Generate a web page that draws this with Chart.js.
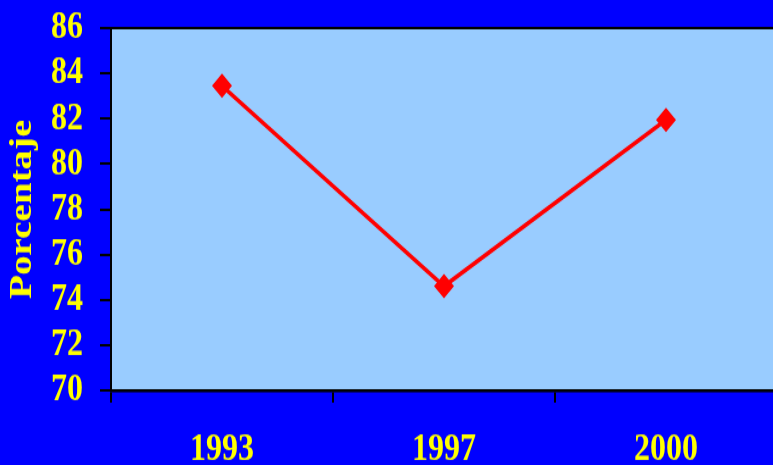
<!DOCTYPE html>
<html>
<head>
<meta charset="utf-8">
<script src="https://cdn.jsdelivr.net/npm/chart.js@4"></script>
<style>
  html, body { margin: 0; padding: 0; background: #0000FF; overflow: hidden; width: 773px; height: 465px; }
  /* the original slide is stretched vertically */
  #wrap { width: 790px; height: 400px; transform: scaleY(1.22); transform-origin: 0 0; }
</style>
</head>
<body>
<div id="wrap"><canvas id="porcentajeChart" width="790" height="400"></canvas></div>
<script>
  // Data
  const years = ['1993', '1997', '2000'];
  const porcentaje = [83.45, 74.6, 81.95];
  const yMin = 70, yMax = 86, yStep = 2;

  const yellow = '#FFFF00';
  const serif = '"Liberation Serif", "Times New Roman", serif';

  // Light blue plot area with black frame
  const plotBackground = {
    id: 'plotBackground',
    beforeDraw(chart) {
      const { ctx, chartArea: a } = chart;
      ctx.save();
      ctx.fillStyle = '#99CCFF';
      ctx.fillRect(a.left, a.top, a.right - a.left, a.bottom - a.top);
      ctx.strokeStyle = '#000000';
      ctx.lineWidth = 2;
      ctx.strokeRect(a.left, a.top, a.right - a.left, a.bottom - a.top);
      ctx.restore();
    }
  };

  const ctx = document.getElementById('porcentajeChart').getContext('2d');
  new Chart(ctx, {
    type: 'line',
    data: {
      labels: years,
      datasets: [{
        data: porcentaje,
        borderColor: '#FF0000',
        backgroundColor: '#FF0000',
        borderWidth: 3.5,
        pointStyle: 'rectRot',
        pointRadius: 10,
        pointHoverRadius: 10,
        pointBorderWidth: 0,
        tension: 0
      }]
    },
    options: {
      responsive: false,
      animation: false,
      layout: { padding: { top: 23, right: 13, left: 0, bottom: 0 } },
      plugins: {
        legend: { display: false },
        tooltip: { enabled: false }
      },
      scales: {
        x: {
          offset: true,
          grid: {
            offset: true,
            drawOnChartArea: false,
            drawTicks: true,
            tickLength: 10,
            color: '#000000',
            lineWidth: 2
          },
          border: { display: true, color: '#000000', width: 2.5 },
          ticks: {
            color: yellow,
            padding: 20,
            autoSkip: false,
            maxRotation: 0,
            font: { family: serif, size: 32, weight: 'bold' }
          },
          afterFit(scale) { scale.height = 80; }
        },
        y: {
          min: yMin,
          max: yMax,
          grid: {
            drawOnChartArea: false,
            drawTicks: true,
            tickLength: 11,
            color: '#000000',
            lineWidth: 2
          },
          border: { display: true, color: '#000000', width: 2 },
          ticks: {
            stepSize: yStep,
            autoSkip: false,
            color: yellow,
            padding: 17,
            font: { family: serif, size: 32, weight: 'bold', lineHeight: 1 }
          },
          title: {
            display: true,
            text: 'Porcentaje',
            color: yellow,
            padding: { top: 7, bottom: 0 },
            font: { family: serif, size: 32, weight: 'bold', lineHeight: 1 }
          },
          afterFit(scale) {
            scale.width = 111;
            scale.paddingTop = 0;
            scale.paddingBottom = 0;
          }
        }
      }
    },
    plugins: [plotBackground]
  });
</script>
</body>
</html>
